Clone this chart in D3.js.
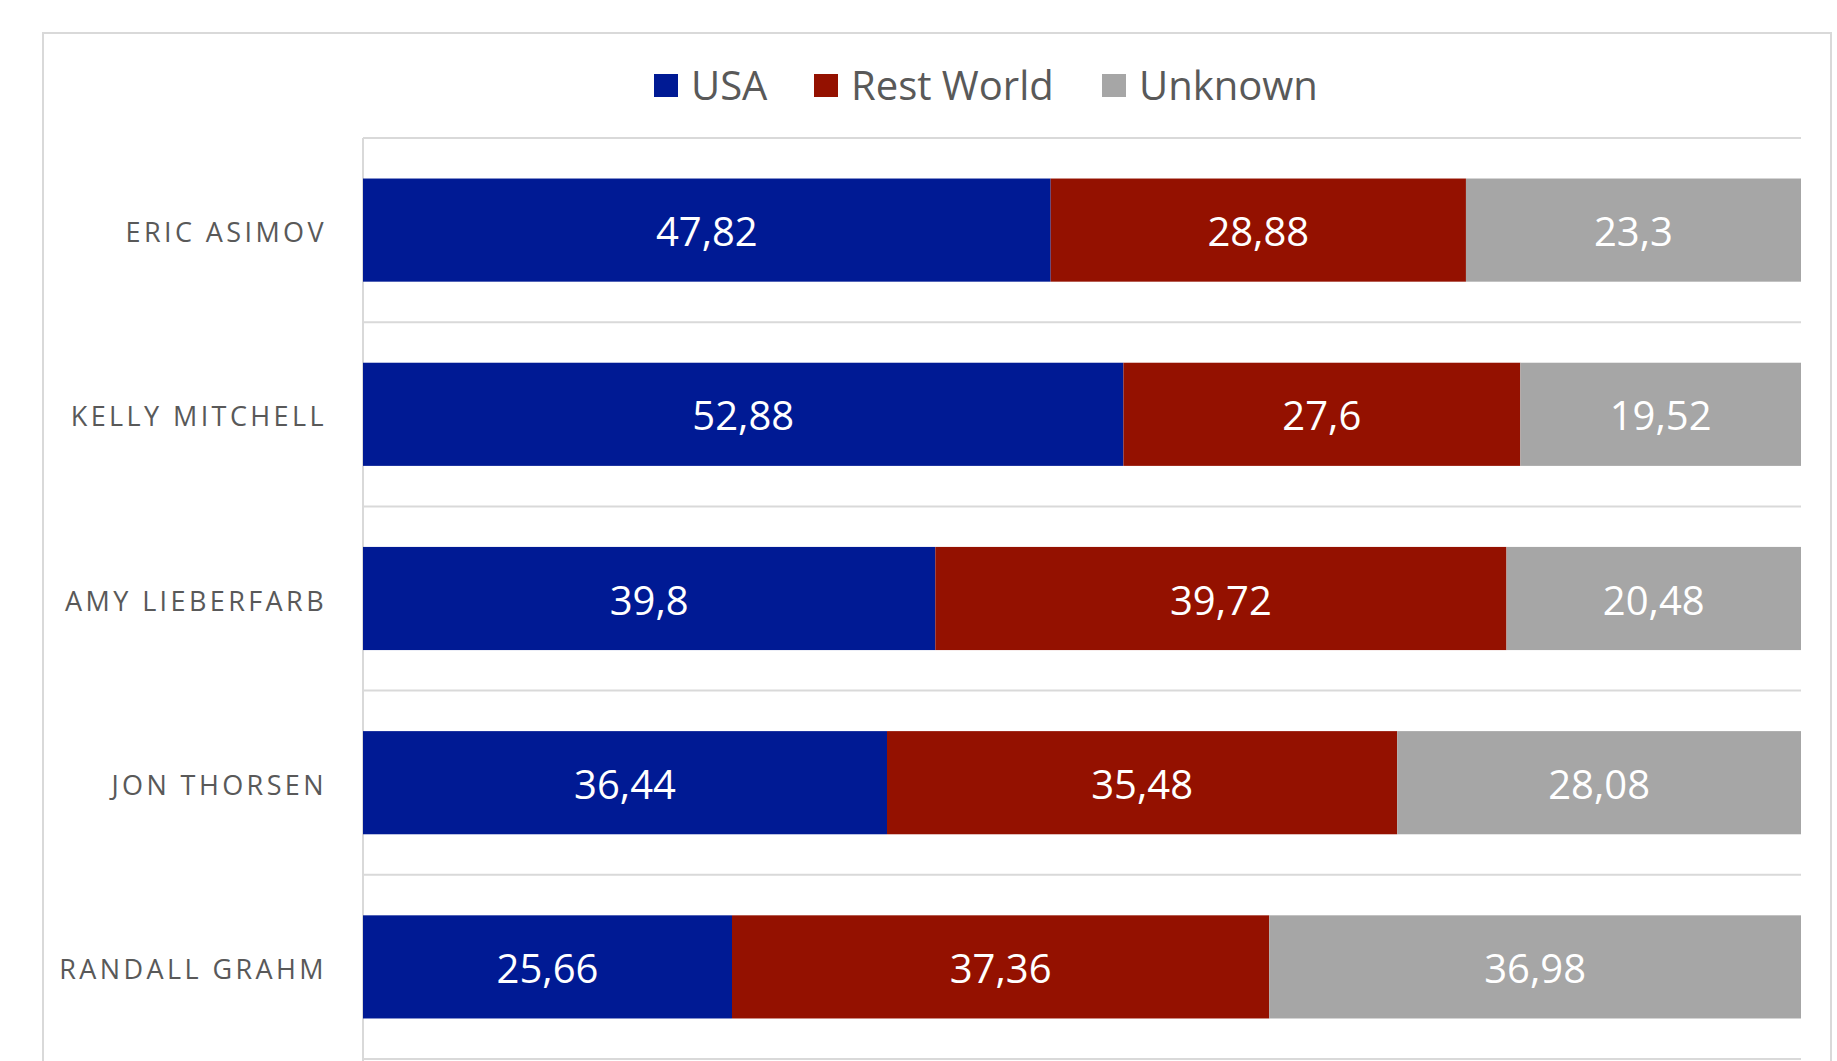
<!DOCTYPE html>
<html>
<head>
<meta charset="utf-8">
<script src="https://cdn.jsdelivr.net/npm/d3@7"></script>
<style>
  html, body { margin: 0; padding: 0; background: #ffffff; }
  svg { display: block; }
</style>
</head>
<body>
<script>
// Reviewers and the share of their reviews by wine origin
const reviewers = ["ERIC ASIMOV", "KELLY MITCHELL", "AMY LIEBERFARB", "JON THORSEN", "RANDALL GRAHM"];
const seriesNames = ["USA", "Rest World", "Unknown"];
const usaValues = [47.82, 52.88, 39.8, 36.44, 25.66];
const restWorldValues = [28.88, 27.6, 39.72, 35.48, 37.36];
const unknownValues = [23.3, 19.52, 20.48, 28.08, 36.98];
const seriesColors = ["#001A94", "#941100", "#A6A6A6"];

const W = 1837, H = 1061;
const margin = { left: 363, right: 36, top: 138, bottom: 2 };

const rows = reviewers.map((name, i) => ({
  name,
  "USA": usaValues[i],
  "Rest World": restWorldValues[i],
  "Unknown": unknownValues[i]
}));

const svg = d3.select("body").append("svg")
  .attr("width", W).attr("height", H);

// outer chart frame
svg.append("rect")
  .attr("x", 43).attr("y", 33)
  .attr("width", 1831 - 43).attr("height", H + 10)
  .attr("fill", "#fff").attr("stroke", "#D9D9D9").attr("stroke-width", 2);

const x = d3.scaleLinear().domain([0, 100]).range([margin.left, W - margin.right]);
const y = d3.scaleBand().domain(reviewers)
  .range([margin.top, H - margin.bottom])
  .paddingInner(0.44).paddingOuter(0.22);

// horizontal separators between categories
const bandStep = y.step();
const sepYs = d3.range(reviewers.length + 1).map(i => margin.top + i * bandStep);
svg.append("g").selectAll("line").data(sepYs).join("line")
  .attr("x1", x(0)).attr("x2", x(100))
  .attr("y1", d => d).attr("y2", d => d)
  .attr("stroke", "#D9D9D9").attr("stroke-width", 2);

// category axis
const yAxis = svg.append("g")
  .attr("transform", `translate(${x(0)},0)`)
  .call(d3.axisLeft(y).tickSize(0).tickPadding(36));
yAxis.select(".domain").attr("stroke", "#D9D9D9").attr("stroke-width", 2)
  .attr("d", `M0,${margin.top}V${H - margin.bottom + 2}`);
yAxis.selectAll(".tick text")
  .attr("font-family", "'Open Sans', sans-serif")
  .attr("font-size", 27)
  .attr("letter-spacing", "3.4px")
  .attr("dy", "0.45em")
  .attr("fill", "#595959");

const stacked = d3.stack().keys(seriesNames)(rows);
const color = d3.scaleOrdinal().domain(seriesNames).range(seriesColors);

const layers = svg.append("g").selectAll("g").data(stacked).join("g")
  .attr("fill", d => color(d.key));

layers.selectAll("rect").data(d => d).join("rect")
  .attr("x", d => x(d[0]))
  .attr("y", d => y(d.data.name))
  .attr("width", d => x(d[1]) - x(d[0]))
  .attr("height", y.bandwidth());

// value labels inside each segment
layers.selectAll("text").data(d => d).join("text")
  .attr("x", d => (x(d[0]) + x(d[1])) / 2)
  .attr("y", d => y(d.data.name) + y.bandwidth() / 2)
  .attr("dy", "0.4em")
  .attr("text-anchor", "middle")
  .attr("font-family", "'Open Sans', sans-serif")
  .attr("font-size", 40)
  .attr("fill", "#ffffff")
  .text(d => String(+(d[1] - d[0]).toFixed(2)).replace(".", ","));

// legend
const legendX = [654, 814, 1102];
const legend = svg.append("g").selectAll("g").data(seriesNames).join("g")
  .attr("transform", (d, i) => `translate(${legendX[i]},74)`);
legend.append("rect")
  .attr("width", 24).attr("height", 23)
  .attr("fill", d => color(d));
legend.append("text")
  .attr("x", 37).attr("y", 12).attr("dy", "0.36em")
  .attr("font-family", "'Open Sans', sans-serif")
  .attr("font-size", 40)
  .attr("fill", "#595959")
  .text(d => d);
</script>
</body>
</html>
